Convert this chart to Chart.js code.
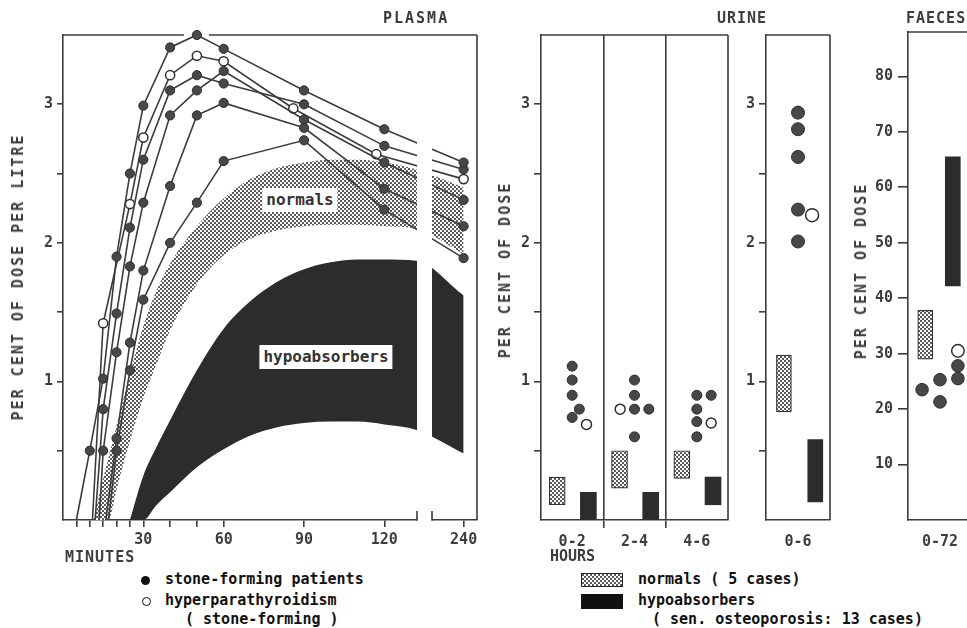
<!DOCTYPE html>
<html>
<head>
<meta charset="utf-8">
<script src="https://cdn.jsdelivr.net/npm/chart.js@4.4.1/dist/chart.umd.min.js"></script>
<style>
  html, body { margin:0; padding:0; background:#fff; }
  #root { position:relative; width:967px; height:628px; overflow:hidden; background:#fff; }
  .cv { position:absolute; top:0; }
  .txt { position:absolute; font-family:'DejaVu Sans Mono', monospace; font-weight:bold; font-size:15px; line-height:16px; color:#3d3d3d; white-space:pre; z-index:2; }
  .ttl { letter-spacing:2px; }
  .vt { position:absolute; font-family:'DejaVu Sans Mono', monospace; font-weight:bold; font-size:15px; line-height:16px; color:#3d3d3d; white-space:pre; letter-spacing:2px; transform:translate(-50%,-50%) rotate(-90deg); z-index:2; }
  .leg { color:#111; }
  .tag { position:absolute; background:#fff; font-family:'DejaVu Sans Mono', monospace; font-weight:bold; font-size:16px; line-height:16px; color:#333; padding:4px 4px; transform:translate(-50%,-50%); white-space:pre; z-index:2; }
  .dot { position:absolute; width:9px; height:9px; border-radius:50%; box-sizing:border-box; z-index:2; }
  .sw { position:absolute; box-sizing:border-box; z-index:2; }
</style>
</head>
<body>
<div id="root">
  <canvas id="plasma" class="cv" style="left:0px" width="490" height="560"></canvas>
  <canvas id="urine" class="cv" style="left:480px" width="260" height="560"></canvas>
  <canvas id="urineTotal" class="cv" style="left:740px" width="100" height="560"></canvas>
  <canvas id="faeces" class="cv" style="left:840px" width="145" height="560"></canvas>

  <div class="txt ttl" style="left:383px;top:10px">PLASMA</div>
  <div class="txt ttl" style="left:717px;top:10px;letter-spacing:1px">URINE</div>
  <div class="txt ttl" style="left:906px;top:10px;letter-spacing:1px">FAECES</div>

  <div class="vt" style="left:18px;top:277px">PER CENT OF DOSE PER LITRE</div>
  <div class="vt" style="left:505px;top:270px">PER CENT OF DOSE</div>
  <div class="vt" style="left:861px;top:271px">PER CENT OF DOSE</div>

  <div class="txt" style="left:65px;top:549px;letter-spacing:1px">MINUTES</div>
  <div class="txt" style="left:550px;top:548px">HOURS</div>

  <div class="tag" style="left:300px;top:200px">normals</div>
  <div class="tag" style="left:326px;top:357px">hypoabsorbers</div>

  <div class="dot" style="left:141px;top:576px;background:#111"></div>
  <div class="txt leg" style="left:165px;top:571px">stone-forming patients</div>
  <div class="dot" style="left:142px;top:597px;border:1.5px solid #111;background:#fff"></div>
  <div class="txt leg" style="left:165px;top:592px">hyperparathyroidism</div>
  <div class="txt leg" style="left:185px;top:611px">( stone-forming )</div>

  <div class="sw" id="swDots" style="left:581px;top:573px;width:42px;height:14px;border:1px solid #222"></div>
  <div class="txt leg" style="left:638px;top:571px">normals ( 5 cases)</div>
  <div class="sw" style="left:581px;top:594px;width:42px;height:15px;background:#111"></div>
  <div class="txt leg" style="left:638px;top:592px">hypoabsorbers</div>
  <div class="txt leg" style="left:652px;top:611px">( sen. osteoporosis: 13 cases)</div>
</div>

<script>
// ---------------- DATA ----------------
// Plasma: minutes after dose (240 sits after the axis break)
const plasmaTimes = [10, 15, 20, 25, 30, 40, 50, 60, 90, 120, 240];
const stoneA = [0.50, 1.02, 1.90, 2.50, 2.99, 3.41, 3.50, 3.40, 3.10, 2.82, 2.58];
const stoneB = [null, 0.80, 1.49, 2.11, 2.60, 3.10, 3.21, 3.15, 3.00, 2.70, 2.53];
const stoneC = [null, 0.50, 1.21, 1.83, 2.29, 2.92, 3.10, 3.24, 2.89, 2.58, 2.31];
const stoneD = [null, null, 0.59, 1.28, 1.80, 2.41, 2.92, 3.01, 2.83, 2.39, 2.12];
const stoneE = [null, null, 0.50, 1.08, 1.59, 2.00, 2.29, 2.59, 2.74, 2.24, 1.89];
const stoneStart = [5, 12, 13.5, 16, 17];          // minute where each trace leaves zero
const hyperTimes = [15, 25, 30, 40, 50, 60, 86, 117, 240];
const hyperVals  = [1.42, 2.28, 2.76, 3.21, 3.35, 3.31, 2.97, 2.64, 2.46];
const hyperStart = 11;

const normalsTimes = [11.5, 15, 17, 20, 25, 30, 35, 40, 50, 60, 70, 80, 90, 100, 110, 120, 132, 240];
const normalsLow   = [0, 0, 0, 0.22, 0.57, 0.88, 1.13, 1.37, 1.70, 1.91, 2.03, 2.09, 2.12, 2.13, 2.13, 2.12, 2.10, 1.92];
const normalsHigh  = [0, 0.30, 0.45, 0.68, 1.05, 1.40, 1.66, 1.85, 2.12, 2.32, 2.46, 2.54, 2.58, 2.60, 2.60, 2.58, 2.53, 2.40];
const hypoTimes = [25, 30, 35, 40, 50, 60, 70, 80, 90, 100, 110, 120, 132, 240];
const hypoLow   = [0, 0, 0.11, 0.20, 0.38, 0.51, 0.61, 0.67, 0.70, 0.71, 0.71, 0.69, 0.65, 0.48];
const hypoHigh  = [0, 0.32, 0.53, 0.72, 1.08, 1.38, 1.58, 1.72, 1.81, 1.86, 1.88, 1.88, 1.87, 1.62];

const plasmaTickMinutes  = [5, 10, 15, 20, 25, 30, 40, 50, 60, 90, 120, 240];
const plasmaLabelMinutes = [30, 60, 90, 120, 240];
const doseTicks  = [0.5, 1, 1.5, 2, 2.5, 3];
const doseLabels = [1, 2, 3];

// Urine, by 2-hour period: [period index, dot column, value]
const urineCats = ['0-2', '2-4', '4-6'];
const urineStone = [
  [0, 0, 1.11], [0, 0, 1.01], [0, 0, 0.90], [0, 0.5, 0.80], [0, 0, 0.74],
  [1, 0, 1.01], [1, 0, 0.90], [1, 0, 0.80], [1, 1, 0.80], [1, 0, 0.60],
  [2, 0, 0.90], [2, 1, 0.90], [2, 0, 0.80], [2, 0, 0.71], [2, 0, 0.60]
];
const urineHyper = [[0, 1, 0.69], [1, -1, 0.80], [2, 1, 0.70]];
const urineNormals = [[0.11, 0.31], [0.23, 0.50], [0.30, 0.50]];
const urineHypo    = [[0, 0.20], [0, 0.20], [0.11, 0.31]];

// Urine 0-6 hours total
const totalCats = ['0-6'];
const totalStone = [[0, 0, 2.94], [0, 0, 2.82], [0, 0, 2.62], [0, 0, 2.24], [0, 0, 2.01]];
const totalHyper = [[0, 1, 2.20]];
const totalNormals = [[0.78, 1.19]];
const totalHypo    = [[0.13, 0.58]];

// Faeces 0-72 hours
const faecesCats = ['0-72'];
const faecesStone = [[0, -1, 23.5], [0, 0, 25.3], [0, 0, 21.3], [0, 1, 27.8], [0, 1, 25.5]];
const faecesHyper = [[0, 1, 30.5]];
const faecesNormals = [[29.0, 37.8]];
const faecesHypo    = [[42.2, 65.5]];
const faecesTicks = [10, 20, 30, 40, 50, 60, 70, 80];

// ---------------- STYLE / HELPERS ----------------
const INK = '#3c3c3c';
const FONT = { family: "'DejaVu Sans Mono', monospace", size: 15, weight: 'bold' };
const TICKCOL = '#3d3d3d';
Chart.defaults.font.family = FONT.family;

// broken time axis: values past the break are compressed next to it
const AX240 = 149.6;
function axisX(t) { return t <= 135 ? t : AX240 + (t - 240) * 0.14; }

function makeDotsCanvas() {
  const c = document.createElement('canvas');
  c.width = 4; c.height = 4;
  const g = c.getContext('2d');
  g.fillStyle = '#fff'; g.fillRect(0, 0, 4, 4);
  g.fillStyle = '#5a5a5a';
  g.fillRect(0, 0, 2, 2);
  g.fillRect(2, 2, 2, 2);
  return c;
}
const dotsCanvas = makeDotsCanvas();
const DOTS = dotsCanvas.getContext('2d').createPattern(dotsCanvas, 'repeat');
document.getElementById('swDots').style.backgroundImage = 'url(' + dotsCanvas.toDataURL() + ')';

const framePlugin = {
  id: 'frame',
  beforeDatasetsDraw(chart, args, opts) {
    const { ctx, chartArea: a } = chart;
    ctx.save();
    ctx.strokeStyle = INK; ctx.lineWidth = 1.6;
    ctx.beginPath();
    const gaps = opts.topGaps ? opts.topGaps(chart) : [];
    let x0 = a.left;
    gaps.forEach(([g1, g2]) => { ctx.moveTo(x0, a.top); ctx.lineTo(g1, a.top); x0 = g2; });
    ctx.moveTo(x0, a.top); ctx.lineTo(a.right, a.top);
    ctx.moveTo(a.right, a.top); ctx.lineTo(a.right, a.bottom);
    ctx.stroke();
    ctx.restore();
  },
  afterDatasetsDraw(chart, args, opts) {
    if (!opts.axisBreak) return;
    const { ctx, chartArea: a, scales: { x } } = chart;
    const g1 = x.getPixelForValue(opts.axisBreak[0]), g2 = x.getPixelForValue(opts.axisBreak[1]);
    ctx.save();
    ctx.fillStyle = '#fff';
    ctx.fillRect(g1, a.top + 1, g2 - g1, a.bottom - a.top + 3);
    ctx.strokeStyle = INK; ctx.lineWidth = 1.6;
    ctx.beginPath();
    ctx.moveTo(g1, a.bottom - 9); ctx.lineTo(g1, a.bottom + 0.8);
    ctx.moveTo(g2, a.bottom - 9); ctx.lineTo(g2, a.bottom + 0.8);
    ctx.stroke();
    ctx.restore();
  }
};

const baseOpts = {
  responsive: false, devicePixelRatio: 1, animation: false, events: [],
  plugins: { legend: { display: false }, tooltip: { enabled: false } }
};

// ---------------- PLASMA ----------------
(function () {
  const lineStyle = {
    type: 'line', borderColor: INK, borderWidth: 1.6, tension: 0, clip: false, order: 1,
    pointBorderColor: '#2e2e2e', pointBorderWidth: 1,
    pointRadius: c => (c.dataIndex === 0 ? 0 : 4.6)
  };
  const datasets = [];
  [stoneA, stoneB, stoneC, stoneD, stoneE].forEach((vals, k) => {
    const pts = [{ x: axisX(stoneStart[k]), y: 0 }];
    plasmaTimes.forEach((t, i) => { if (vals[i] !== null) pts.push({ x: axisX(t), y: vals[i] }); });
    datasets.push(Object.assign({ label: 'stone-forming ' + (k + 1), data: pts, pointBackgroundColor: '#474747' }, lineStyle));
  });
  const hp = [{ x: axisX(hyperStart), y: 0 }].concat(hyperTimes.map((t, i) => ({ x: axisX(t), y: hyperVals[i] })));
  datasets.push(Object.assign({ label: 'hyperparathyroidism', data: hp, pointBackgroundColor: '#fff' }, lineStyle, { pointBorderWidth: 1.5 }));

  const band = (times, vals, label, fill, bg) => ({
    type: 'line', label, data: times.map((t, i) => ({ x: axisX(t), y: vals[i] })),
    borderColor: 'rgba(0,0,0,0)', borderWidth: 0, pointRadius: 0,
    cubicInterpolationMode: 'monotone', fill, backgroundColor: bg, order: 5
  });
  datasets.push(band(normalsTimes, normalsLow, 'normals low', false, 'rgba(0,0,0,0)'));
  datasets.push(band(normalsTimes, normalsHigh, 'normals', '-1', DOTS));
  datasets.push(band(hypoTimes, hypoLow, 'hypoabsorbers low', false, 'rgba(0,0,0,0)'));
  datasets.push(band(hypoTimes, hypoHigh, 'hypoabsorbers', '-1', '#2c2c2c'));

  new Chart(document.getElementById('plasma'), {
    type: 'line',
    data: { datasets },
    plugins: [framePlugin],
    options: Object.assign({}, baseOpts, {
      layout: { padding: { top: 35, right: 13, left: 0, bottom: 0 } },
      plugins: Object.assign({}, baseOpts.plugins, {
        frame: {
          axisBreak: [132.2, 137.8],
          topGaps: (c) => {
            const ch = c.chart || c;
            const meta = ch.getDatasetMeta(0);
            let best = null;
            meta.data.forEach(p => { if (!best || p.y < best.y) best = p; });
            return best && best.y <= ch.chartArea.top + 2 ? [[best.x - 13, best.x + 12]] : [];
          }
        }
      }),
      scales: {
        x: {
          type: 'linear', min: 0, max: 154.6, offset: false,
          afterBuildTicks: s => { s.ticks = plasmaTickMinutes.map(t => ({ value: axisX(t) })); },
          afterFit: s => { s.height = 40; },
          ticks: {
            autoSkip: false, maxRotation: 0, minRotation: 0, padding: 4, font: FONT, color: TICKCOL,
            callback: v => {
              const t = plasmaTickMinutes.find(m => Math.abs(axisX(m) - v) < 1e-6);
              return plasmaLabelMinutes.includes(t) ? String(t) : '';
            }
          },
          grid: { drawOnChartArea: false, drawTicks: true, tickLength: 7, color: INK, lineWidth: 1.6 },
          border: { display: true, color: INK, width: 1.6 }
        },
        y: {
          type: 'linear', min: 0, max: 3.5,
          afterBuildTicks: s => { s.ticks = doseTicks.map(v => ({ value: v })); },
          afterFit: s => { s.width = 63; },
          ticks: { padding: 4, font: FONT, color: TICKCOL, callback: v => (doseLabels.includes(v) ? String(v) : '') },
          grid: { drawOnChartArea: false, drawTicks: true, tickLength: 6, color: INK, lineWidth: 1.6 },
          border: { display: true, color: INK, width: 1.6 }
        }
      }
    })
  });
})();

// ---------------- COLUMN CHARTS (urine, faeces) ----------------
function columnChart(id, cfg) {
  const n = cfg.cats.length;
  const half = [];
  for (let i = 0; i < n - 1; i++) half.push(i + 0.5);
  const xTicks = [];
  for (let i = 0; i < n; i++) { xTicks.push(i); if (i < n - 1) xTicks.push(i + 0.5); }
  const datasets = [
    { type: 'scatter', label: 'stone-forming patients', order: 1, clip: false,
      data: cfg.stone.map(([c, s, v]) => ({ x: c + s * cfg.slot, y: v })),
      pointRadius: cfg.r, pointBackgroundColor: '#474747', pointBorderColor: '#2e2e2e', pointBorderWidth: 1 },
    { type: 'scatter', label: 'hyperparathyroidism', order: 1, clip: false,
      data: cfg.hyper.map(([c, s, v]) => ({ x: c + s * cfg.slot, y: v })),
      pointRadius: cfg.r, pointBackgroundColor: '#fff', pointBorderColor: '#2e2e2e', pointBorderWidth: 1.5 },
    { type: 'bar', label: 'normals', order: 3,
      data: cfg.normals.map((r, i) => ({ x: i + cfg.nOff, y: [r[0], r[1]] })),
      backgroundColor: DOTS, borderColor: '#333', borderWidth: 1.2, borderSkipped: false, barThickness: cfg.bw },
    { type: 'bar', label: 'hypoabsorbers', order: 3,
      data: cfg.hypo.map((r, i) => ({ x: i + cfg.hOff, y: [r[0], r[1]] })),
      backgroundColor: '#2c2c2c', borderWidth: 0, barThickness: cfg.bw }
  ];
  new Chart(document.getElementById(id), {
    type: 'scatter',
    data: { datasets },
    plugins: [framePlugin],
    options: Object.assign({}, baseOpts, {
      layout: { padding: { top: cfg.top, right: cfg.padRight, left: 0, bottom: 0 } },
      plugins: Object.assign({}, baseOpts.plugins, { frame: {} }),
      scales: {
        x: {
          type: 'linear', min: -0.5, max: n - 0.5, offset: false, stacked: true,
          afterBuildTicks: s => { s.ticks = xTicks.map(v => ({ value: v })); },
          afterFit: s => { s.height = 40; },
          ticks: {
            autoSkip: false, maxRotation: 0, minRotation: 0, padding: 5, font: FONT, color: TICKCOL,
            callback: v => (Number.isInteger(v) ? cfg.cats[v] : '')
          },
          grid: {
            offset: false, drawOnChartArea: true, drawTicks: true, tickLength: 8, lineWidth: 1.6,
            color: c => (c.tick && half.includes(c.tick.value) ? INK : 'rgba(0,0,0,0)')
          },
          border: { display: true, color: INK, width: 1.6 }
        },
        y: {
          type: 'linear', min: 0, max: cfg.yMax, stacked: false,
          afterBuildTicks: s => { s.ticks = cfg.yTicks.map(v => ({ value: v })); },
          afterFit: s => { s.width = cfg.yWidth; },
          ticks: { padding: cfg.yPad, font: FONT, color: TICKCOL, callback: v => (cfg.yLabels.includes(v) ? String(v) : '') },
          grid: { drawOnChartArea: false, drawTicks: true, tickLength: cfg.tickLen, color: INK, lineWidth: 1.6 },
          border: { display: true, color: INK, width: 1.6 }
        }
      }
    })
  });
}

columnChart('urine', {
  cats: urineCats, stone: urineStone, hyper: urineHyper, normals: urineNormals, hypo: urineHypo,
  slot: 0.23, nOff: -0.24, hOff: 0.26, bw: 16, r: 5,
  yMax: 3.5, yTicks: doseTicks, yLabels: doseLabels, yWidth: 61, yPad: 4, tickLen: 7, top: 35, padRight: 12
});
columnChart('urineTotal', {
  cats: totalCats, stone: totalStone, hyper: totalHyper, normals: totalNormals, hypo: totalHypo,
  slot: 0.22, nOff: -0.22, hOff: 0.27, bw: 15, r: 6.5,
  yMax: 3.5, yTicks: doseTicks, yLabels: doseLabels, yWidth: 26, yPad: 4, tickLen: 7, top: 35, padRight: 10
});
columnChart('faeces', {
  cats: faecesCats, stone: faecesStone, hyper: faecesHyper, normals: faecesNormals, hypo: faecesHypo,
  slot: 0.28, nOff: -0.23, hOff: 0.2, bw: 15, r: 6.3,
  yMax: 88, yTicks: faecesTicks, yLabels: faecesTicks, yWidth: 68, yPad: 5, tickLen: 10, top: 32, padRight: 13
});
</script>
</body>
</html>
